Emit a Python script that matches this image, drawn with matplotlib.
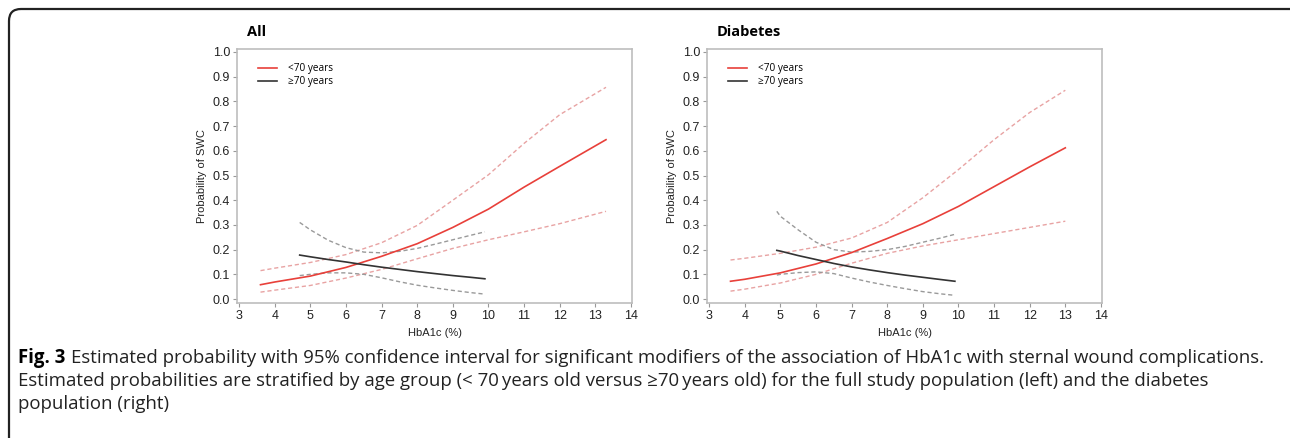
import numpy as np
import matplotlib.pyplot as plt
from matplotlib.patches import FancyBboxPatch
from matplotlib.transforms import IdentityTransform

plt.rcParams["font.family"] = ["Liberation Sans", "DejaVu Sans"]

# ---------------- data ----------------
# All: <70 years
all_young_x = [3.6, 4, 5, 6, 7, 8, 9, 10, 11, 12, 13.3]
all_young = [0.058, 0.069, 0.093, 0.128, 0.173, 0.224, 0.290, 0.364, 0.453, 0.537, 0.645]
all_young_up = [0.115, 0.125, 0.148, 0.180, 0.228, 0.298, 0.400, 0.503, 0.630, 0.746, 0.857]
all_young_lo = [0.028, 0.036, 0.055, 0.085, 0.120, 0.163, 0.205, 0.240, 0.272, 0.305, 0.355]
# All: >=70 years
all_old_x = [4.7, 5, 5.5, 6, 6.5, 7, 7.5, 8, 8.5, 9, 9.5, 9.9]
all_old = [0.178, 0.171, 0.160, 0.150, 0.139, 0.129, 0.120, 0.111, 0.103, 0.095, 0.088, 0.082]
all_old_up = [0.310, 0.280, 0.238, 0.208, 0.190, 0.187, 0.193, 0.205, 0.222, 0.240, 0.258, 0.272]
all_old_lo = [0.095, 0.100, 0.106, 0.106, 0.100, 0.086, 0.070, 0.056, 0.045, 0.035, 0.026, 0.020]

# Diabetes: <70 years
dm_young_x = [3.6, 4, 5, 6, 7, 8, 9, 10, 11, 12, 13]
dm_young = [0.072, 0.080, 0.106, 0.142, 0.188, 0.245, 0.305, 0.375, 0.455, 0.535, 0.612]
dm_young_up = [0.158, 0.165, 0.185, 0.210, 0.247, 0.310, 0.410, 0.524, 0.645, 0.755, 0.845]
dm_young_lo = [0.032, 0.040, 0.065, 0.100, 0.145, 0.185, 0.215, 0.240, 0.265, 0.290, 0.315]
# Diabetes: >=70 years
dm_old_x = [4.9, 5, 5.5, 6, 6.5, 7, 7.5, 8, 8.5, 9, 9.5, 9.9]
dm_old = [0.197, 0.194, 0.176, 0.160, 0.144, 0.130, 0.118, 0.107, 0.097, 0.088, 0.079, 0.072]
dm_old_up = [0.355, 0.335, 0.280, 0.230, 0.200, 0.190, 0.193, 0.200, 0.213, 0.230, 0.247, 0.262]
dm_old_lo = [0.097, 0.100, 0.107, 0.110, 0.103, 0.085, 0.069, 0.055, 0.042, 0.030, 0.021, 0.015]

panels = [
    ("All", all_young_x, all_young, all_young_up, all_young_lo,
     all_old_x, all_old, all_old_up, all_old_lo),
    ("Diabetes", dm_young_x, dm_young, dm_young_up, dm_young_lo,
     dm_old_x, dm_old, dm_old_up, dm_old_lo),
]

W, H = 1290, 438
fig = plt.figure(figsize=(W/100, H/100), dpi=100)

# outer frame: only top and left edges visible, rounded corner (pixel coords)
frame = FancyBboxPatch((9, -100), 1500, H - 9 + 100,
                       boxstyle="round,pad=0,rounding_size=12",
                       fill=False, ec="#222222", lw=1.6,
                       transform=IdentityTransform())
fig.add_artist(frame)

red = "#e8403a"
pink = "#e8a3a3"
dark = "#333333"
grey = "#9a9a9a"

lefts = [237, 707]
for (title, yx, y, yup, ylo, ox, o, oup, olo), lpx in zip(panels, lefts):
    ax = fig.add_axes([lpx/W, 135/H, 395/W, 254/H])
    ax.plot(yx, yup, color=pink, lw=1.0, ls=(0, (3, 2)))
    ax.plot(yx, ylo, color=pink, lw=1.0, ls=(0, (3, 2)))
    ax.plot(ox, oup, color=grey, lw=1.0, ls=(0, (3, 2)))
    ax.plot(ox, olo, color=grey, lw=1.0, ls=(0, (3, 2)))
    l1, = ax.plot(yx, y, color=red, lw=1.2)
    l2, = ax.plot(ox, o, color=dark, lw=1.2)
    ax.set_xlim(2.94, 14.03)
    ax.set_ylim(-0.016, 1.012)
    ax.set_xticks(range(3, 15))
    ax.set_yticks(np.arange(0, 1.01, 0.1))
    ax.set_yticklabels(["%.1f" % v for v in np.arange(0, 1.01, 0.1)])
    for s in ax.spines.values():
        s.set_color("#bdbdbd")
        s.set_linewidth(1.2)
    ax.tick_params(colors="#999999", labelcolor="#222222", length=3, width=0.8,
                   labelsize=9, pad=2)
    ax.set_ylabel("Probability of SWC", fontsize=8, color="#222222", labelpad=4)
    ax.set_xlabel("HbA1c (%)", fontsize=8, color="#222222", labelpad=4)
    ax.text(0.025, 1.067, title, transform=ax.transAxes, fontsize=10.5,
            fontweight="bold", family="Open Sans", va="center", ha="left")
    ax.legend([l1, l2], ["<70 years", "\u226570 years"], loc="upper left",
              frameon=False, prop={"family": "Open Sans", "size": 7.2},
              handlelength=1.9, handletextpad=1.1, labelspacing=0.2,
              bbox_to_anchor=(0.043, 0.96), borderaxespad=0)

fs = 13.4
cap1_y = 1 - 358/H
t0 = fig.text(18/W, cap1_y, "Fig. 3", fontsize=fs, fontweight="bold",
              family="Open Sans", va="center", ha="left")
fig.canvas.draw()
bb = t0.get_window_extent()
fig.text((bb.x1 + 6)/W, cap1_y,
         "Estimated probability with 95% confidence interval for significant modifiers of the "
         "association of HbA1c with sternal wound complications.",
         fontsize=fs, family="Open Sans", va="center", ha="left", color="#222222")
fig.text(18/W, 1 - 381/H,
         "Estimated probabilities are stratified by age group (< 70\u2009years old versus "
         "\u226570\u2009years old) for the full study population (left) and the diabetes",
         fontsize=fs, family="Open Sans", va="center", ha="left", color="#222222")
fig.text(18/W, 1 - 404/H, "population (right)",
         fontsize=fs, family="Open Sans", va="center", ha="left", color="#222222")

fig.savefig("out.png", dpi=100)
